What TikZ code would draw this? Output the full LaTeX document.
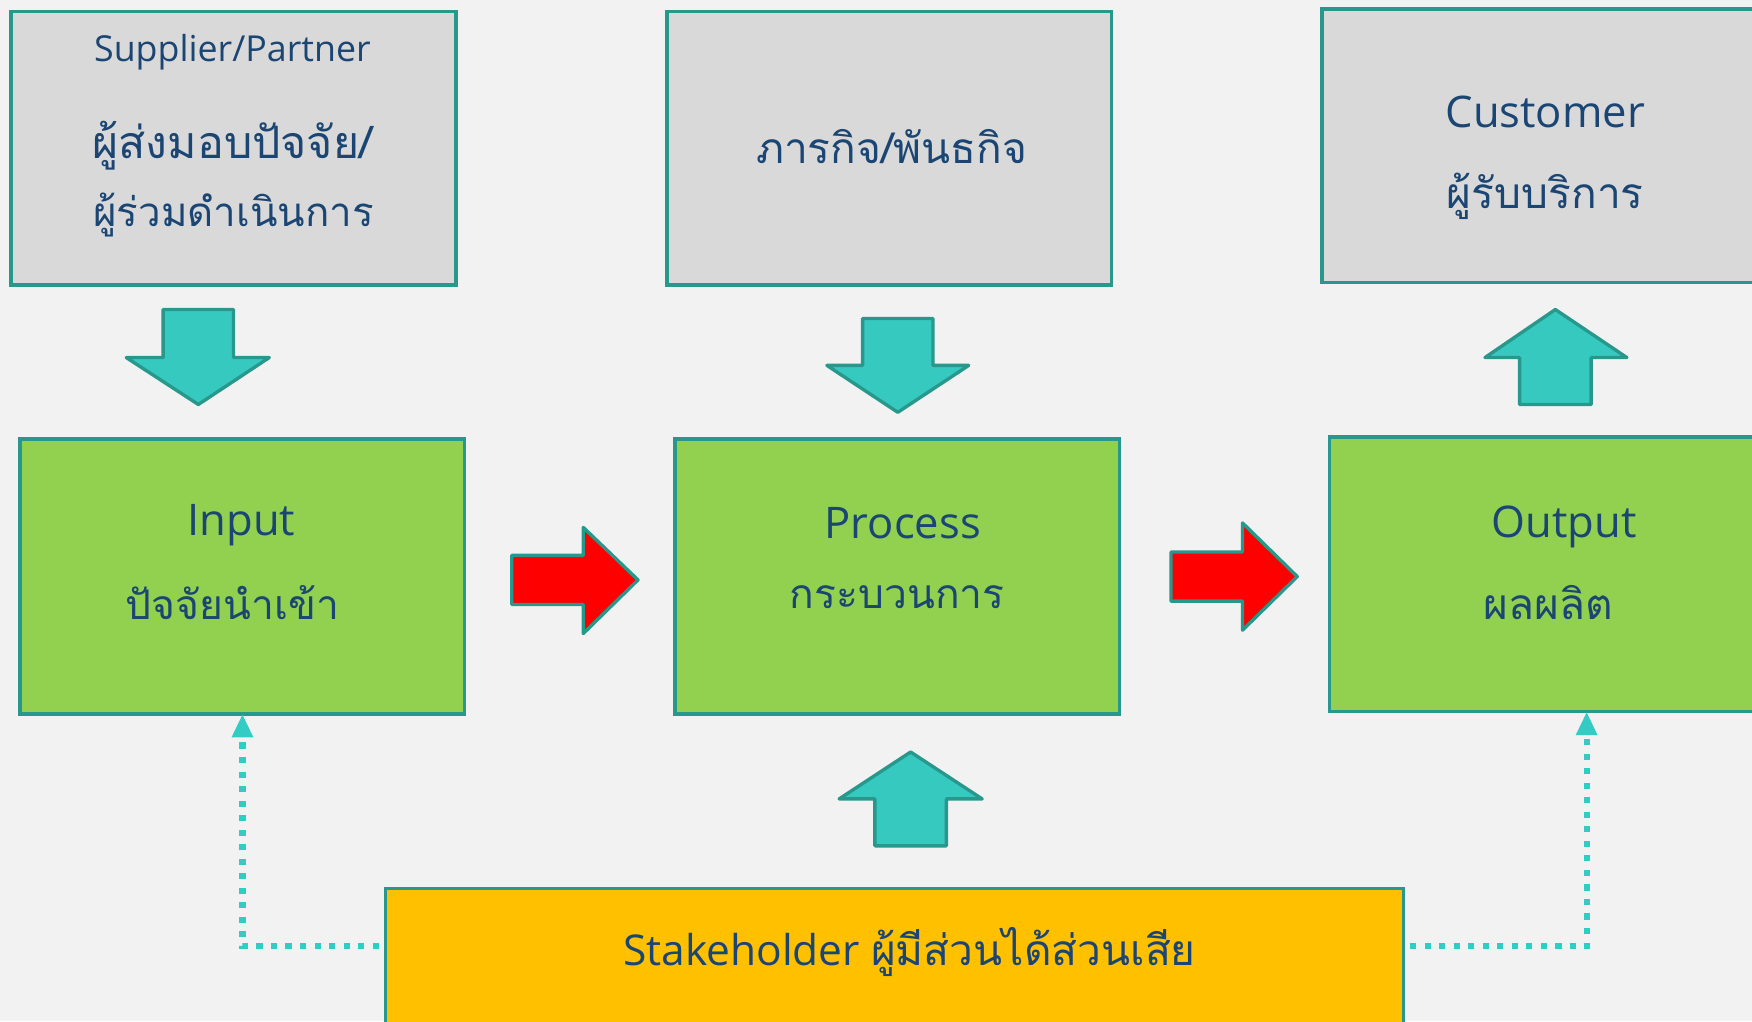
\documentclass[tikz,border=0pt]{standalone}
\usepackage{fontspec}
\setmainfont{Open Sans}
\newfontfamily\thai[Script=Thai]{Loma}
\usetikzlibrary{arrows.meta}
\definecolor{bg}{RGB}{242,242,242}
\definecolor{graybox}{RGB}{217,217,217}
\definecolor{tealline}{RGB}{40,152,140}
\definecolor{tealfill}{RGB}{54,201,192}
\definecolor{dotcol}{RGB}{51,204,196}
\definecolor{greenbox}{RGB}{146,208,80}
\definecolor{yellowbox}{RGB}{255,192,0}
\definecolor{txt}{RGB}{27,69,115}
\tikzset{
  box/.style={draw=tealline, line width=3pt, inner sep=0pt, outer sep=0pt, anchor=north west},
  graynode/.style={box, fill=graybox},
  greennode/.style={box, fill=greenbox},
  yellownode/.style={box, fill=yellowbox},
  lat/.style={text=txt, inner sep=0pt, font=\fontsize{39}{42}\selectfont},
  latsmall/.style={text=txt, inner sep=0pt, font=\fontsize{32}{36}\selectfont},
  th/.style={text=txt, inner sep=0pt, font=\thai\fontsize{38}{42}\selectfont},
  thmid/.style={text=txt, inner sep=0pt, font=\thai\fontsize{36.5}{40}\selectfont},
  thbig/.style={text=txt, inner sep=0pt, font=\thai\fontsize{40}{44}\selectfont},
  blockarrow/.style={draw=tealline, fill=tealfill, line width=3pt, line join=round},
  redarrow/.style={draw=tealline, fill=red, line width=3pt, line join=round},
  dotline/.style={draw=dotcol, line width=5.5pt, dash pattern=on 5.5pt off 7.5pt, -{Triangle[width=18pt,length=21pt]}}
}
\begin{document}
\begin{tikzpicture}[x=1pt,y=-1pt]
\useasboundingbox (0,0) rectangle (1568,914);
\clip (0,0) rectangle (1568,914);
\fill[bg] (0,0) rectangle (1568,914);
% boxes
\node[graynode, minimum width=398pt, minimum height=245pt] (sup) at (10,10) {};
\node[graynode, minimum width=398pt, minimum height=245pt] (mis) at (597,10) {};
\node[graynode, minimum width=420pt, minimum height=245pt] (cus) at (1183,8) {};
\node[greennode, minimum width=398pt, minimum height=246pt] (in) at (18,393) {};
\node[greennode, minimum width=398pt, minimum height=246pt] (pro) at (604,393) {};
\node[greennode, minimum width=420pt, minimum height=246pt] (out) at (1190,391) {};
\node[yellownode, minimum width=911pt, minimum height=160pt] (stk) at (345,795) {};
% texts
\node[latsmall] (supt) at (208,47) {Supplier/Partner};
\node[thbig] (supt1) at (208,130) {ผู้ส่งมอบปัจจัย/};
\node[thmid, font=\thai\fontsize{36}{40}\selectfont] (supt2) at (209,192) {ผู้ร่วมดำเนินการ};
\node[th] (mist) at (798,131) {ภารกิจ/พันธกิจ};
\node[lat] (cust) at (1383,100) {Customer};
\node[th] (cust2) at (1383,176) {ผู้รับบริการ};
\node[lat] (int) at (216,470) {Input};
\node[thmid] (int2) at (208,539) {ปัจจัยนำเข้า};
\node[lat] (prot) at (808,468) {Process};
\node[thmid] (prot2) at (803,534) {กระบวนการ};
\node[lat] (outt) at (1400,472) {Output};
\node[th] (outt2) at (1386,539) {ผลผลิต};
\node[text=txt, inner sep=0pt, font=\fontsize{38}{42}\selectfont] (stkt) at (814,852) {Stakeholder {\thai ผู้มีส่วนได้ส่วนเสีย}};
% block arrows down
\draw[blockarrow] (146,277) -- (209,277) -- (209,320) -- (241,320) -- (177.5,362) -- (113,320) -- (146,320) -- cycle;
\draw[blockarrow] (772,285) -- (835,285) -- (835,327) -- (867,327) -- (803.5,369) -- (740,327) -- (772,327) -- cycle;
% block arrows up
\draw[blockarrow] (1392,277) -- (1456,320) -- (1424,320) -- (1424,362) -- (1360,362) -- (1360,320) -- (1329,320) -- cycle;
\draw[blockarrow] (815,673) -- (879,715) -- (847,715) -- (847,757) -- (783,757) -- (783,715) -- (751,715) -- cycle;
% red arrows
\draw[redarrow] (458,497) -- (522,497) -- (522,472) -- (571,519) -- (522,567) -- (522,541) -- (458,541) -- cycle;
\draw[redarrow] (1048,494) -- (1112,494) -- (1112,468) -- (1161,516) -- (1112,564) -- (1112,538) -- (1048,538) -- cycle;
% dotted connectors
\coordinate (sl) at (339,847);
\coordinate (sr) at (1262,847);
\draw[dotline] (sl) -| (in.south);
\draw[dotline] (sr) -| ([xshift=20pt]out.south);
\end{tikzpicture}
\end{document}
